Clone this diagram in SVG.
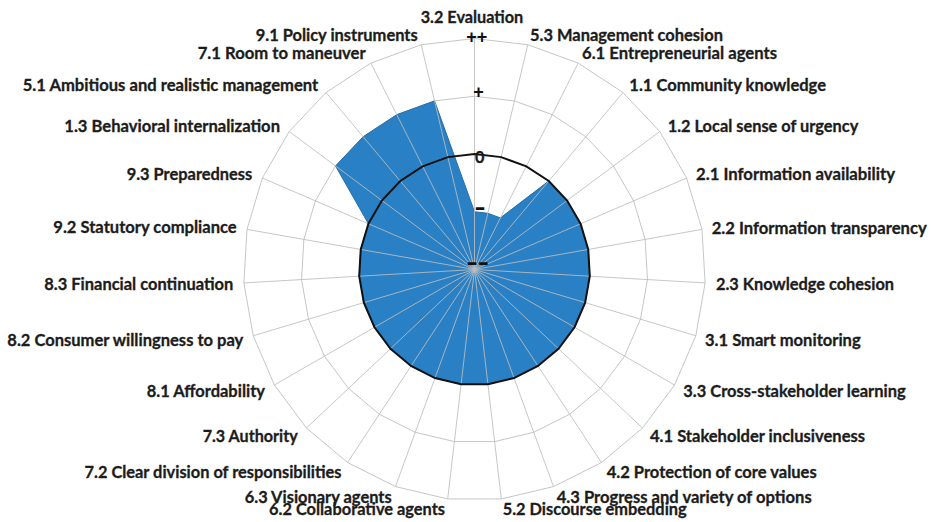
<svg xmlns="http://www.w3.org/2000/svg" width="931" height="522" viewBox="0 0 931 522">
<style>
.ring{fill:none;stroke:#c6c6c6;stroke-width:1}
.spoke{fill:none;stroke:#bdbdbd;stroke-width:1;opacity:0.85}
.area{fill:#2a80c4;stroke:#236ea8;stroke-width:1}
.zero{fill:none;stroke:#111;stroke-width:2}
.lbl{font-family:Lato,"Liberation Sans",sans-serif;font-weight:bold;font-size:16.3px;fill:#1c1c1c;stroke:#1c1c1c;stroke-width:0.3}
.r{text-anchor:end}
.m{text-anchor:middle}
.tick{font-family:"Liberation Sans",Arial,sans-serif;font-weight:bold;fill:#111}
</style>
<rect width="931" height="522" fill="#fff"/>
<g id="grid">
<polygon class="ring" points="474.5,38.5 527.77,44.73 578.17,63.07 622.98,92.54 659.75,131.5 686.64,178.01 701.99,229.39 705.11,282.93 695.8,335.75 674.55,385 642.52,428.02 601.44,462.5 553.51,486.57 501.32,498.94 447.68,498.94 395.49,486.57 347.56,462.5 306.48,428.02 274.45,385 253.2,335.75 243.89,282.93 247.01,229.39 262.36,178.01 289.25,131.5 326.02,92.54 370.83,63.07 421.23,44.73"/>
<polygon class="ring" points="474.5,96.25 514.45,100.92 552.25,114.68 585.86,136.78 613.44,166 633.61,200.88 645.12,239.41 647.46,279.57 640.48,319.19 624.54,356.13 600.52,388.39 569.7,414.25 533.76,432.3 494.61,441.58 454.39,441.58 415.24,432.3 379.3,414.25 348.48,388.39 324.46,356.13 308.52,319.19 301.54,279.57 303.88,239.41 315.39,200.88 335.56,166 363.14,136.78 396.75,114.68 434.55,100.92"/>
</g>
<g id="series">
<polygon class="area" points="474.5,211.75 487.82,213.31 500.42,217.89 548.74,181.02 567.12,200.5 580.57,223.75 588.25,249.44 589.8,276.22 585.15,302.63 574.53,327.25 558.51,348.76 537.97,366 514,378.03 487.91,384.22 461.09,384.22 435,378.03 411.03,366 390.49,348.76 374.47,327.25 363.85,302.63 359.2,276.22 360.75,249.44 368.43,223.75 335.56,166 363.14,136.78 396.75,114.68 434.55,100.92"/>
</g>
<g id="spokes">
<path class="spoke" d="M474.5,269.5L474.5,38.5M474.5,269.5L527.77,44.73M474.5,269.5L578.17,63.07M474.5,269.5L622.98,92.54M474.5,269.5L659.75,131.5M474.5,269.5L686.64,178.01M474.5,269.5L701.99,229.39M474.5,269.5L705.11,282.93M474.5,269.5L695.8,335.75M474.5,269.5L674.55,385M474.5,269.5L642.52,428.02M474.5,269.5L601.44,462.5M474.5,269.5L553.51,486.57M474.5,269.5L501.32,498.94M474.5,269.5L447.68,498.94M474.5,269.5L395.49,486.57M474.5,269.5L347.56,462.5M474.5,269.5L306.48,428.02M474.5,269.5L274.45,385M474.5,269.5L253.2,335.75M474.5,269.5L243.89,282.93M474.5,269.5L247.01,229.39M474.5,269.5L262.36,178.01M474.5,269.5L289.25,131.5M474.5,269.5L326.02,92.54M474.5,269.5L370.83,63.07M474.5,269.5L421.23,44.73"/>
</g>
<g id="zero-line">
<polygon class="zero" points="474.5,154 501.14,157.11 526.34,166.29 548.74,181.02 567.12,200.5 580.57,223.75 588.25,249.44 589.8,276.22 585.15,302.63 574.53,327.25 558.51,348.76 537.97,366 514,378.03 487.91,384.22 461.09,384.22 435,378.03 411.03,366 390.49,348.76 374.47,327.25 363.85,302.63 359.2,276.22 360.75,249.44 368.43,223.75 381.88,200.5 400.26,181.02 422.66,166.29 447.86,157.11"/>
</g>
<g id="scale">
<text class="tick m" x="476.7" y="43" font-size="18">++</text>
<text class="tick m" x="478.5" y="98.4" font-size="18">+</text>
<text class="lbl m" x="479.7" y="162.7" font-size="18">0</text>
<text class="tick" font-size="24" transform="translate(474.5,215.4) scale(1.38,1)">-</text>
<text class="tick" font-size="24" transform="translate(466.5,270.2) scale(1.4,1)">--</text>
</g>
<g id="labels">
<text class="lbl m" x="472" y="22.5" textLength="102.6" lengthAdjust="spacingAndGlyphs">3.2 Evaluation</text>
<text class="lbl" x="530" y="40.5" textLength="193" lengthAdjust="spacingAndGlyphs">5.3 Management cohesion</text>
<text class="lbl" x="582" y="59.3" textLength="195" lengthAdjust="spacingAndGlyphs">6.1 Entrepreneurial agents</text>
<text class="lbl" x="629.3" y="90.7" textLength="196.7" lengthAdjust="spacingAndGlyphs">1.1 Community knowledge</text>
<text class="lbl" x="667.7" y="131.7" textLength="190.6" lengthAdjust="spacingAndGlyphs">1.2 Local sense of urgency</text>
<text class="lbl" x="696" y="180" textLength="199" lengthAdjust="spacingAndGlyphs">2.1 Information availability</text>
<text class="lbl" x="711.7" y="234" textLength="215" lengthAdjust="spacingAndGlyphs">2.2 Information transparency</text>
<text class="lbl" x="716" y="290" textLength="178" lengthAdjust="spacingAndGlyphs">2.3 Knowledge cohesion</text>
<text class="lbl" x="705" y="346" textLength="155.7" lengthAdjust="spacingAndGlyphs">3.1 Smart monitoring</text>
<text class="lbl" x="683.3" y="397.3" textLength="222.4" lengthAdjust="spacingAndGlyphs">3.3 Cross-stakeholder learning</text>
<text class="lbl" x="650" y="441.7" textLength="215" lengthAdjust="spacingAndGlyphs">4.1 Stakeholder inclusiveness</text>
<text class="lbl" x="606.7" y="478.3" textLength="210" lengthAdjust="spacingAndGlyphs">4.2 Protection of core values</text>
<text class="lbl" x="556.7" y="503.3" textLength="255" lengthAdjust="spacingAndGlyphs">4.3 Progress and variety of options</text>
<text class="lbl" x="502.7" y="514.5" textLength="184" lengthAdjust="spacingAndGlyphs">5.2 Discourse embedding</text>
<text class="lbl r" x="445" y="514.5" textLength="176" lengthAdjust="spacingAndGlyphs">6.2 Collaborative agents</text>
<text class="lbl r" x="391.7" y="502.5" textLength="147" lengthAdjust="spacingAndGlyphs">6.3 Visionary agents</text>
<text class="lbl r" x="341.5" y="478.3" textLength="257" lengthAdjust="spacingAndGlyphs">7.2 Clear division of responsibilities</text>
<text class="lbl r" x="297.7" y="441.7" textLength="95" lengthAdjust="spacingAndGlyphs">7.3 Authority</text>
<text class="lbl r" x="265" y="396.7" textLength="118.3" lengthAdjust="spacingAndGlyphs">8.1 Affordability</text>
<text class="lbl r" x="243.3" y="346" textLength="236" lengthAdjust="spacingAndGlyphs">8.2 Consumer willingness to pay</text>
<text class="lbl r" x="233.3" y="290" textLength="189" lengthAdjust="spacingAndGlyphs">8.3 Financial continuation</text>
<text class="lbl r" x="236.7" y="233.3" textLength="183.4" lengthAdjust="spacingAndGlyphs">9.2 Statutory compliance</text>
<text class="lbl r" x="252.3" y="180" textLength="125.6" lengthAdjust="spacingAndGlyphs">9.3 Preparedness</text>
<text class="lbl r" x="280" y="131.7" textLength="215.7" lengthAdjust="spacingAndGlyphs">1.3 Behavioral internalization</text>
<text class="lbl r" x="318.3" y="91" textLength="295.6" lengthAdjust="spacingAndGlyphs">5.1 Ambitious and realistic management</text>
<text class="lbl r" x="365.7" y="59.3" textLength="168" lengthAdjust="spacingAndGlyphs">7.1 Room to maneuver</text>
<text class="lbl r" x="417.7" y="41" textLength="162" lengthAdjust="spacingAndGlyphs">9.1 Policy instruments</text>
</g>
</svg>
